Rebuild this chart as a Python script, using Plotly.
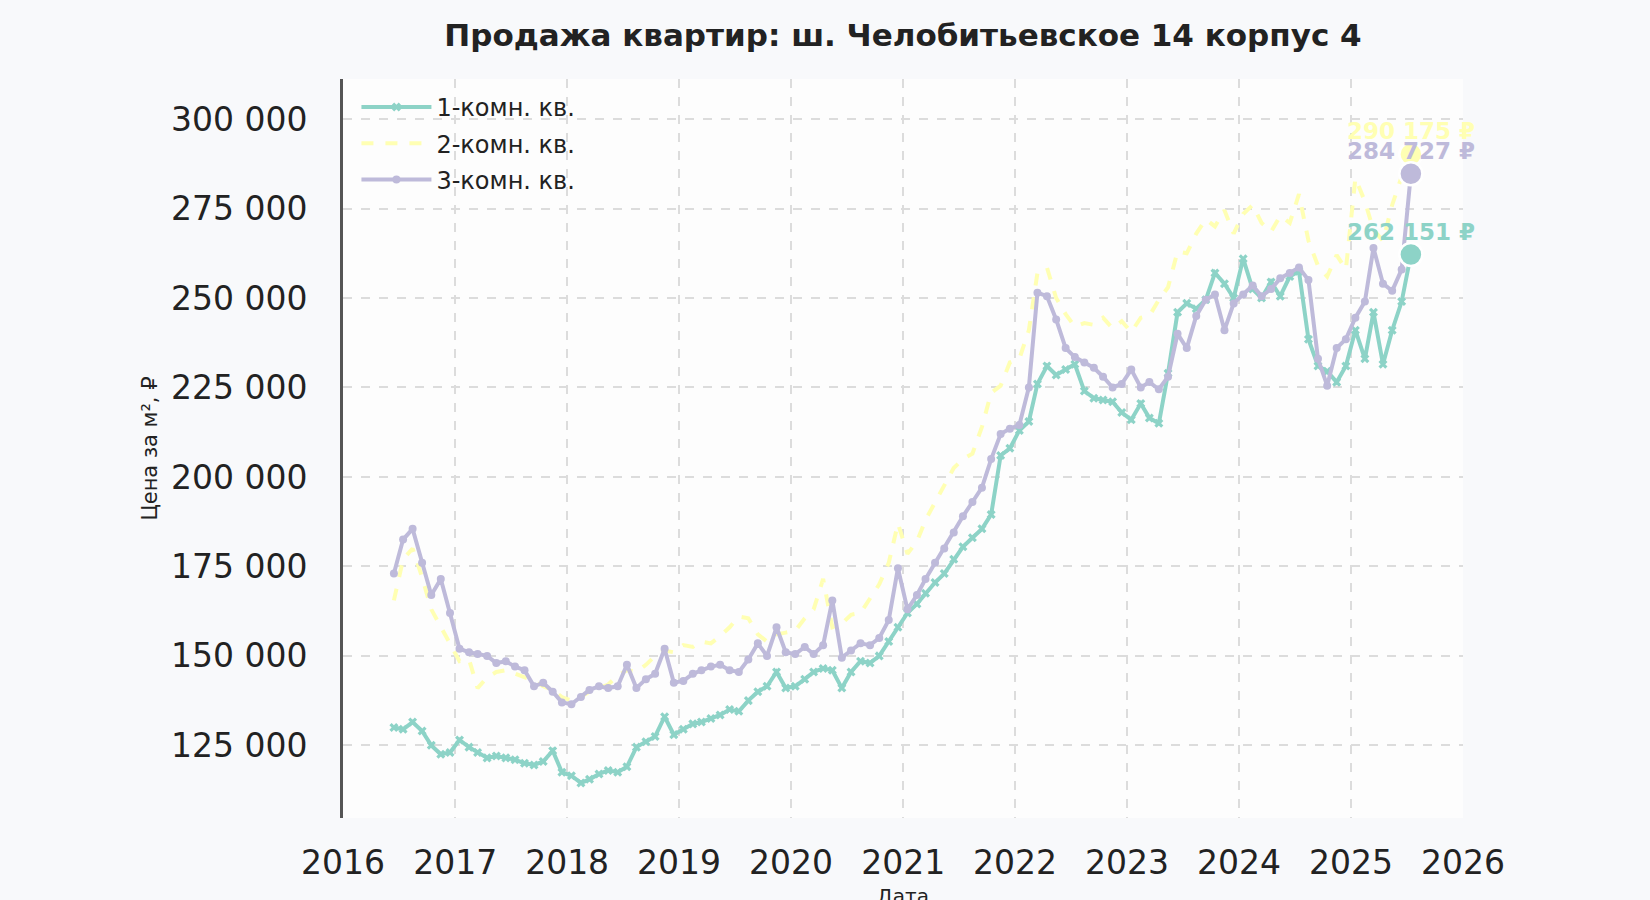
import pandas as pd
import plotly.graph_objects as go

# monthly observations, Jun 2016 .. Jul 2025
dates = pd.date_range("2016-06-01", periods=110, freq="MS") + pd.Timedelta(days=14)

series_names = ["1-комн. кв.", "2-комн. кв.", "3-комн. кв."]

room1 = [
    130000, 129500, 131500, 129000, 125000, 122500, 123000,
    126500, 124500, 123000, 121500, 122000, 121500, 121000, 120000, 119500, 120500, 123500, 117500,
    116500, 114500, 115500, 117000, 118000, 117500, 119000, 124500, 126000, 127500, 133000, 128000,
    129500, 131000, 131500, 132500, 133500, 135000, 134500, 137500, 140000, 141500, 145500, 141000,
    141500, 143500, 145500, 146500, 146000, 141000, 145500, 148500, 148000, 150000, 154000, 158000,
    162000, 164500, 167500, 170500, 173000, 177000, 180500, 183000, 185500, 189500, 206000, 208000,
    213000, 215500, 226000, 231000, 228500, 230000, 231500, 224000, 222000, 221500, 221000, 218000,
    216000, 220500, 216500, 215000, 229000, 246000, 248500, 247000, 249500, 257000, 254000, 250000,
    261000, 252500, 250000, 254500, 250500, 256000, 257500, 238500, 231000, 229500, 226500, 231000,
    241000, 233000, 246000, 231500, 241000, 249000, 262151,
]

room2 = [
    165500, 177000, 180000, 172000, 163000, 158000, 153000,
    148500, 149000, 141000, 144000, 145500, 146000, 145000, 144000, 143000, 141500, 140500, 138500,
    137500, 138500, 140000, 141000, 142000, 144500, 146000, 145500, 147500, 150000, 151500, 151000,
    153000, 152500, 154000, 153500, 155500, 158000, 161000, 160500, 156000, 154000, 156000, 156500,
    157000, 160500, 163000, 171500, 158000, 159000, 161500, 162000, 166000, 170000, 176000, 187000,
    178500, 182000, 188000, 193000, 197500, 202500, 205000, 206500, 214000, 223500, 225500, 232000,
    233000, 241000, 257000, 258500, 250000, 245500, 242000, 243000, 242500, 244500, 241500, 243500,
    240500, 244500, 245000, 249500, 253000, 263000, 262500, 268000, 272000, 270000, 274500, 268000,
    273500, 276000, 271000, 268500, 273000, 271000, 279000, 266000, 259000, 256000, 262000, 258000,
    283500, 277000, 269000, 266000, 276000, 284000, 290175,
]

room3 = [
    173000, 182500, 185500, 176000, 167000, 171500, 162000,
    152000, 151000, 150500, 150000, 148000, 148500, 147000, 146000, 141500, 142500, 140000, 137000,
    136500, 138500, 140500, 141500, 141000, 141500, 147500, 141000, 143500, 145000, 152000, 142500,
    143000, 145000, 146000, 147000, 147500, 146000, 145500, 149000, 153500, 150000, 158000, 151000,
    150500, 152500, 150500, 153000, 165500, 149500, 151500, 153500, 153000, 155000, 160000, 174500,
    163000, 167000, 171500, 176000, 180000, 184500, 189000, 193000, 197000, 205000, 212000, 213500,
    214500, 225000, 251500, 250500, 244000, 236000, 233500, 232000, 230500, 228000, 225000, 226000,
    230000, 225000, 226500, 224500, 228000, 240000, 236000, 245000, 249500, 251000, 241000, 248500,
    251000, 253500, 250500, 252500, 255500, 257000, 258500, 255000, 233000, 225500, 236000, 238500,
    244500, 249000, 264000, 254000, 252000, 258000, 284727,
]

colors = ["#8dd3c7", "#ffffb3", "#bebada"]
font = "DejaVu Sans"
paper = "#f8f9fb"

fig = go.Figure()

fig.add_trace(go.Scatter(
    x=dates, y=room1, name=series_names[0], mode="lines+markers", legendgroup="a",
    line=dict(color=colors[0], width=4),
    marker=dict(symbol="x", size=8, color=colors[0]),
))
fig.add_trace(go.Scatter(
    x=dates, y=room2, name=series_names[1], mode="lines", legendgroup="b",
    line=dict(color=colors[1], width=4, dash="dash"),
))
fig.add_trace(go.Scatter(
    x=dates, y=room3, name=series_names[2], mode="lines+markers", legendgroup="c",
    line=dict(color=colors[2], width=4),
    marker=dict(symbol="circle", size=8, color=colors[2]),
))

# last value of each series, highlighted
for vals, c in zip([room1, room2, room3], colors):
    fig.add_trace(go.Scatter(
        x=[dates[-1]], y=[vals[-1]], mode="markers",
        marker=dict(size=23, color=c, line=dict(color="white", width=2.5)),
        cliponaxis=False, showlegend=False, hoverinfo="skip",
    ))
    label = f"{vals[-1]:,}".replace(",", " ") + " ₽"
    fig.add_annotation(
        x=dates[-1], y=vals[-1], text=f"<b>{label}</b>", showarrow=False,
        yshift=23, xanchor="center", yanchor="middle",
        font=dict(family=font, size=23, color=c),
    )

fig.update_layout(
    width=1650, height=900,
    paper_bgcolor=paper, plot_bgcolor="#fdfdfd",
    margin=dict(l=335, r=195, t=71, b=90, autoexpand=False),
    separators=", ",
    font=dict(family=font, color="#222222"),
    title=dict(
        text="<b>Продажа квартир: ш. Челобитьевское 14 корпус 4</b>",
        x=0.5, xref="paper", y=1 - 27 / 900, yref="container",
        xanchor="center", yanchor="middle",
        font=dict(family=font, size=31, color="#222222"),
    ),
    legend=dict(
        x=0.012, y=0.992, xanchor="left", yanchor="top",
        bgcolor="rgba(0,0,0,0)", font=dict(family=font, size=24, color="#222222"),
        tracegroupgap=2, itemwidth=70,
    ),
    showlegend=True,
)

fig.update_xaxes(
    range=["2016-01-01", "2026-01-01"], dtick="M12", tick0="2016-01-01",
    tickformat="%Y", showgrid=True, gridcolor="#dcdcdc", gridwidth=2, griddash="dash",
    zeroline=False, showline=False, ticks="", ticklabelstandoff=22,
    tickfont=dict(family=font, size=33, color="#222222"),
    title=dict(text="Дата", standoff=14, font=dict(family=font, size=20, color="#222222")),
    automargin=False,
)
fig.update_yaxes(
    range=[104700, 311200], dtick=25000, tick0=125000, tickformat=",d",
    showgrid=True, gridcolor="#dcdcdc", gridwidth=2, griddash="dash",
    zeroline=False, showline=True, linecolor="#555555", linewidth=3,
    ticks="", ticklabelstandoff=26,
    tickfont=dict(family=font, size=33, color="#222222"),
    title=dict(text="Цена за м², ₽", standoff=8, font=dict(family=font, size=21, color="#222222")),
    automargin=False,
)

fig.write_html("out.html", post_script=f"document.body.style.background='{paper}';")
